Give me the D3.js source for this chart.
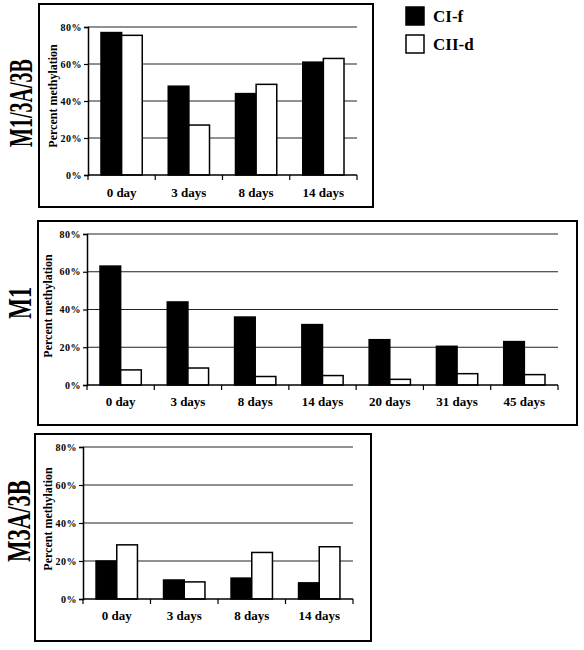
<!DOCTYPE html>
<html>
<head>
<meta charset="utf-8">
<script src="https://cdn.jsdelivr.net/npm/d3@7"></script>
<style>
  html, body { margin: 0; padding: 0; background: #fff; }
  svg { display: block; }
  text { font-family: "Liberation Serif", "DejaVu Serif", serif; font-weight: bold; fill: #000; }
</style>
</head>
<body>
<svg id="chart" width="584" height="650"></svg>
<script>
// ---- data ----
const seriesNames = ["CI-f", "CII-d"];
const daysShort = ["0 day", "3 days", "8 days", "14 days"];
const daysLong = ["0 day", "3 days", "8 days", "14 days", "20 days", "31 days", "45 days"];
const yTicks = [0, 20, 40, 60, 80];
const yTickLabels = ["0%", "20%", "40%", "60%", "80%"];
const yTitle = "Percent methylation";
const panelNames = ["M1/3A/3B", "M1", "M3A/3B"];

const m133_CIf  = [77, 48, 44, 61];
const m133_CIId = [75.5, 27, 49, 63];
const m1_CIf    = [63, 44, 36, 32, 24, 20.5, 23];
const m1_CIId   = [8, 9, 4.5, 5, 3, 6, 5.5];
const m3_CIf    = [20, 10, 11, 8.5];
const m3_CIId   = [28.5, 9, 24.5, 27.5];

// ---- layout ----
const panels = [
  { name: panelNames[0], cats: daysShort, a: m133_CIf, b: m133_CIId,
    box: [39, 4, 373, 207], ax: 88, right: 357, y0: 175, y80: 27, xlab: 197,
    title: [53, 96], row: [32, 103], rowLen: 88 },
  { name: panelNames[1], cats: daysLong, a: m1_CIf, b: m1_CIId,
    box: [38, 221, 577, 425], ax: 87, right: 558, y0: 385, y80: 234, xlab: 406,
    title: [48, 306], row: [31, 303], rowLen: 32 },
  { name: panelNames[2], cats: daysShort, a: m3_CIf, b: m3_CIId,
    box: [35, 434, 371, 641], ax: 83, right: 353, y0: 599, y80: 447, xlab: 620,
    title: [48, 519], row: [30, 521], rowLen: 82 }
];

const svg = d3.select("#chart");

panels.forEach(p => {
  const g = svg.append("g");
  // frame
  g.append("rect")
    .attr("x", p.box[0]).attr("y", p.box[1])
    .attr("width", p.box[2] - p.box[0]).attr("height", p.box[3] - p.box[1])
    .attr("fill", "none").attr("stroke", "#000").attr("stroke-width", 2);

  const x = d3.scaleBand().domain(p.cats).range([p.ax, p.right]).padding(0);
  const xs = d3.scaleBand().domain(seriesNames).range([0, x.bandwidth()]).paddingInner(0).paddingOuter(0.63);
  const y = d3.scaleLinear().domain([0, 80]).range([p.y0, p.y80]);

  // gridlines
  g.append("g").selectAll("line").data(yTicks.filter(t => t > 0)).join("line")
    .attr("x1", p.ax).attr("x2", p.right)
    .attr("y1", d => y(d)).attr("y2", d => y(d))
    .attr("stroke", "#222").attr("stroke-width", 1);

  // bars
  const rows = p.cats.map((c, i) => ({ cat: c, vals: [p.a[i], p.b[i]] }));
  const grp = g.append("g").selectAll("g").data(rows).join("g")
    .attr("transform", d => `translate(${x(d.cat)},0)`);
  grp.selectAll("rect").data(d => d.vals.map((v, j) => ({ s: seriesNames[j], v })))
    .join("rect")
    .attr("x", d => xs(d.s)).attr("width", xs.bandwidth())
    .attr("y", d => y(d.v)).attr("height", d => y(0) - y(d.v))
    .attr("fill", d => d.s === seriesNames[0] ? "#000" : "#fff")
    .attr("stroke", "#000").attr("stroke-width", 1.5);

  // y axis
  const yAxis = d3.axisLeft(y).tickValues(yTicks).tickSize(4).tickPadding(2)
    .tickFormat((d, i) => yTickLabels[i]);
  const ya = g.append("g").attr("transform", `translate(${p.ax},0)`).call(yAxis);
  ya.select(".domain").attr("stroke", "#000").attr("stroke-width", 1.5);
  ya.selectAll(".tick line").attr("stroke", "#000").attr("stroke-width", 1.2);
  ya.selectAll("text").style("font-size", "10px").style("font-family", '"Liberation Serif", serif')
    .style("font-weight", "bold").attr("letter-spacing", "0.5");

  // x axis (ticks at band boundaries)
  const xa = g.append("g").attr("transform", `translate(0,${p.y0})`);
  xa.append("line").attr("x1", p.ax).attr("x2", p.right).attr("y1", 0).attr("y2", 0)
    .attr("stroke", "#000").attr("stroke-width", 1.5);
  const bounds = p.cats.map(c => x(c)).concat([p.right]);
  xa.selectAll("line.tk").data(bounds).join("line").attr("class", "tk")
    .attr("x1", d => d).attr("x2", d => d).attr("y1", 0).attr("y2", 5)
    .attr("stroke", "#000").attr("stroke-width", 1.2);
  g.append("g").selectAll("text").data(p.cats).join("text")
    .attr("x", d => x(d) + x.bandwidth() / 2).attr("y", p.xlab)
    .attr("text-anchor", "middle").style("font-size", "13px")
    .text(d => d);

  // y title
  g.append("text")
    .attr("transform", `translate(${p.title[0]},${p.title[1]}) rotate(-90)`)
    .attr("text-anchor", "middle").attr("dominant-baseline", "central")
    .style("font-size", "12px").text(yTitle);

  // row label (baseline on the right, caps extend left)
  g.append("text")
    .attr("transform", `translate(${p.row[0]},${p.row[1]}) rotate(-90)`)
    .attr("text-anchor", "middle")
    .attr("textLength", p.rowLen).attr("lengthAdjust", "spacingAndGlyphs")
    .style("font-size", "33px").text(p.name);
});

// legend
const leg = svg.append("g");
seriesNames.forEach((s, i) => {
  const yy = 7 + i * 28;
  leg.append("rect").attr("x", 406).attr("y", yy).attr("width", 18).attr("height", 18)
    .attr("fill", i === 0 ? "#000" : "#fff").attr("stroke", "#000").attr("stroke-width", 1.5);
  leg.append("text").attr("x", 433).attr("y", yy + 15).style("font-size", "17px").text(s);
});
</script>
</body>
</html>
